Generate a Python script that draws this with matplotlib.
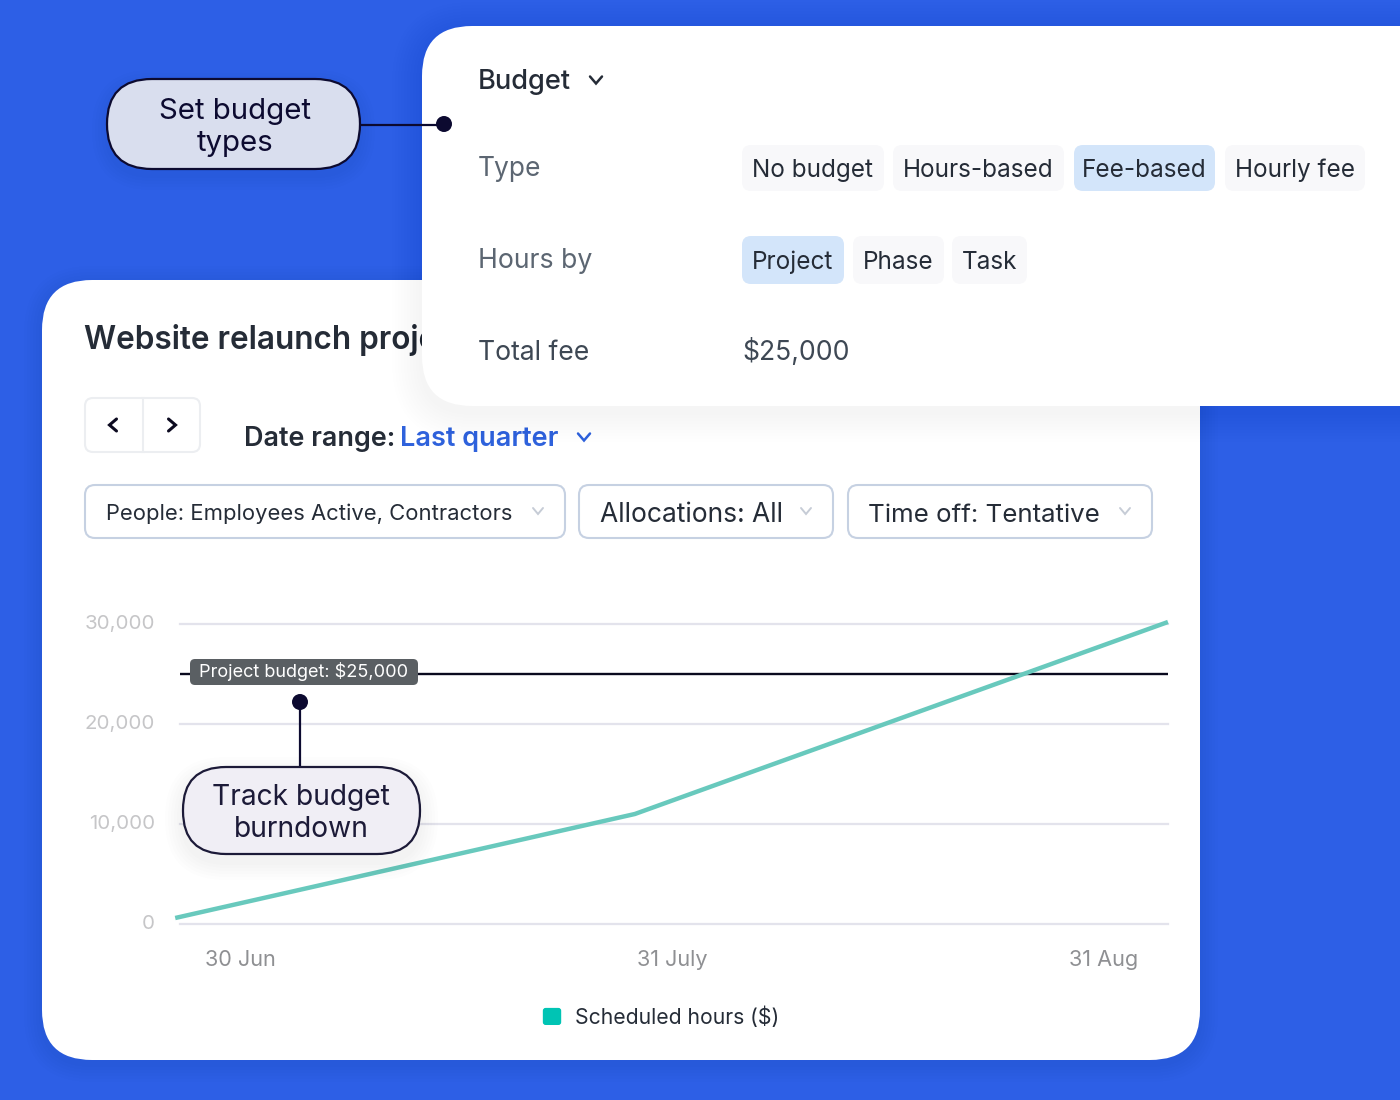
import matplotlib
matplotlib.use("Agg")
import matplotlib.pyplot as plt
from matplotlib.legend_handler import HandlerPatch
from matplotlib.patches import FancyBboxPatch, Circle, Patch
from matplotlib.transforms import ScaledTranslation

plt.rcParams['font.family'] = ['Inter', 'DejaVu Sans']

# chart data, x is in tick units (0 = 30 Jun, 1 = 31 July, 2 = 31 Aug)
line_x = [-0.15, 0.914, 2.148]
line_values = [600, 11000, 30200]
budget_value = 25000
y_ticks = [0, 10000, 20000, 30000]
y_labels = ['0', '10,000', '20,000', '30,000']
x_ticks = [0, 1, 2]
x_labels = ['30 Jun', '31 July', '31 Aug']
series_name = 'Scheduled hours ($)'
budget_label = 'Project budget: $25,000'

type_options = ['No budget', 'Hours-based', 'Fee-based', 'Hourly fee']
hours_options = ['Project', 'Phase', 'Task']
filter_labels = ['People: Employees Active, Contractors', 'Allocations: All', 'Time off: Tentative']

BLUE = '#2d5fe6'
INK = '#0c0a30'
DARK = '#252c37'
GREY = '#5c6672'


def px_axes(zorder):
    ax = fig.add_axes([0, 0, 1, 1], zorder=zorder)
    ax.set_xlim(0, 1400)
    ax.set_ylim(1100, 0)
    ax.axis('off')
    ax.patch.set_alpha(0)
    return ax


def box(ax, x0, y0, x1, y1, r, fc, ec='none', lw=0, z=2):
    p = FancyBboxPatch((x0 + r, y0 + r), x1 - x0 - 2 * r, y1 - y0 - 2 * r,
                       boxstyle='round,pad=%f,rounding_size=%f' % (r, r),
                       fc=fc, ec=ec, lw=lw, zorder=z)
    ax.add_patch(p)
    return p


def shadow(ax, x0, y0, x1, y1, r, spread, dy, alpha, z=1):
    for i in range(spread, 0, -3):
        p = box(ax, x0 - i, y0 - i + dy, x1 + i, y1 + i + dy, r + i, 'black', z=z)
        p.set_alpha(alpha)


def chevron(ax, x, y, w, h, color, lw, direction='down'):
    if direction == 'down':
        xs, ys = [x - w, x, x + w], [y - h, y + h, y - h]
    elif direction == 'left':
        xs, ys = [x + h, x - h, x + h], [y - w, y, y + w]
    else:
        xs, ys = [x - h, x + h, x - h], [y - w, y, y + w]
    ax.plot(xs, ys, color=color, lw=lw, solid_capstyle='round', solid_joinstyle='miter', zorder=5)


class RoundHandle(HandlerPatch):
    def create_artists(self, legend, orig, xdescent, ydescent, width, height, fontsize, trans):
        p = FancyBboxPatch((-xdescent + 2, -ydescent + 2), width - 4, height - 4,
                           boxstyle='round,pad=2,rounding_size=2',
                           fc=orig.get_facecolor(), ec='none', transform=trans)
        return [p]


fig = plt.figure(figsize=(14, 11), dpi=100, facecolor=BLUE)

# base layer: main card
base = px_axes(0)
shadow(base, 42, 280, 1200, 1060, 50, 18, 4, 0.006)
box(base, 42, 280, 1200, 1060, 50, 'white')
base.text(84, 349, 'Website relaunch project', fontsize=22.7, fontweight='semibold', color=DARK,
          va='baseline', zorder=3)

box(base, 85, 398, 200, 452, 8, 'white', ec='#eceef1', lw=1.5, z=3)
base.plot([142.5, 142.5], [398, 452], color='#eceef1', lw=1.5, zorder=4)
chevron(base, 113, 425, 6, 3.5, '#0c0a20', 2.2, 'left')
chevron(base, 172, 425, 6, 3.5, '#0c0a20', 2.2, 'right')

base.text(244, 446, 'Date range:', fontsize=19.4, fontweight='semibold', color=DARK, va='baseline', zorder=3)
base.text(400, 446, 'Last quarter', fontsize=19.5, fontweight='semibold', color='#2f62dc', va='baseline', zorder=3)
chevron(base, 584, 437, 6, 3.5, '#2f62dc', 1.8)

filter_boxes = [(85, 565, 15.85), (579, 833, 19), (848, 1152, 18.65)]
for (x0, x1, size), label in zip(filter_boxes, filter_labels):
    box(base, x0, 485, x1, 538, 10, 'white', ec='#c6d1e2', lw=1.5, z=3)
    base.text(x0 + 20.5, 520 if x0 == 85 else 522, label, fontsize=size, color=DARK, va='baseline', zorder=4)
    chevron(base, x1 - 27, 511, 5, 3, '#c6ccd6', 1.4)

# chart layer, spans x 180-1168 and y 624-924 in pixels
ax = fig.add_axes([180 / 1400, 1 - 924 / 1100, 988 / 1400, 300 / 1100], zorder=1)
ax.patch.set_alpha(0)
ax.set_xlim((180 - 240) / 432, (1168 - 240) / 432)
ax.set_ylim(0, 30000)
for s in ax.spines.values():
    s.set_visible(False)
ax.set_yticks(y_ticks)
ax.set_yticklabels(y_labels)
ax.set_xticks(x_ticks)
ax.set_xticklabels(x_labels)
ax.tick_params(axis='y', length=0, pad=18, labelsize=14.8, labelcolor='#c6c6c8')
ax.tick_params(axis='x', length=0, pad=19, labelsize=15.6, labelcolor='#8f9093')
# y labels sit slightly above their gridlines
for label in ax.get_yticklabels():
    label.set_transform(label.get_transform() + ScaledTranslation(0, 2 / 100, fig.dpi_scale_trans))
ax.grid(axis='y', color='#e3e3ec', lw=1.6, zorder=1, clip_on=False)
ax.set_axisbelow(True)
ax.axhline(budget_value, color='#0a0a1e', lw=1.7, zorder=2)
ax.plot(line_x, line_values, color='#68c9bd', lw=3.2, zorder=3, clip_on=False,
        solid_capstyle='butt', solid_joinstyle='round')
ax.legend(handles=[Patch(fc='#00c4b4', ec='none', label=series_name)],
          loc='center', bbox_to_anchor=(661 / 1400, 1 - 1017 / 1100),
          bbox_transform=fig.transFigure, frameon=False, fontsize=15.2,
          handlelength=0.87, handleheight=0.87, handletextpad=0.65,
          labelcolor=DARK, handler_map={Patch: RoundHandle()})

# top layer: budget panel and callouts
top = px_axes(2)
shadow(top, 422, 26, 1460, 406, 50, 30, 6, 0.004)
box(top, 422, 26, 1460, 406, 50, 'white')

top.text(478, 89, 'Budget', fontsize=19.6, fontweight='medium', color=DARK, va='baseline', zorder=4)
chevron(top, 596, 80, 6, 3.5, DARK, 1.8)

top.text(478, 176, 'Type', fontsize=19, color=GREY, va='baseline', zorder=4)
top.text(478, 268, 'Hours by', fontsize=19.2, color=GREY, va='baseline', zorder=4)
top.text(478, 360, 'Total fee', fontsize=19.1, color='#3e4854', va='baseline', zorder=4)
top.text(742, 360, '$25,000', fontsize=19.1, color='#3e4854', va='baseline', zorder=4)

type_spans = [(742, 884), (893, 1064), (1074, 1215), (1225, 1365)]
for (x0, x1), label in zip(type_spans, type_options):
    fc = '#d3e5fa' if label == 'Fee-based' else '#f8f8fa'
    box(top, x0, 145, x1, 191, 9, fc, z=3)
    top.text((x0 + x1) / 2, 177, label, fontsize=17.5, color=DARK, ha='center', va='baseline', zorder=4)

hours_spans = [(742, 844), (853, 944), (952, 1027)]
for (x0, x1), label in zip(hours_spans, hours_options):
    fc = '#d3e5fa' if label == 'Project' else '#f8f8fa'
    box(top, x0, 236, x1, 284, 9, fc, z=3)
    top.text((x0 + x1) / 2, 269, label, fontsize=17.5, color=DARK, ha='center', va='baseline', zorder=4)

# set budget callout
shadow(top, 107, 79, 360, 169, 45, 15, 6, 0.008)
box(top, 107, 79, 360, 169, 45, '#d9deee', ec=INK, lw=1.6, z=3)
top.text(235, 119, 'Set budget', fontsize=21.2, color=INK, ha='center', va='baseline', zorder=4)
top.text(235, 151, 'types', fontsize=21.2, color=INK, ha='center', va='baseline', zorder=4)
top.plot([360, 444], [125, 125], color=INK, lw=1.6, zorder=2.5)
top.add_patch(Circle((444, 124), 8, fc=INK, ec='none', zorder=4))

# budget label and burndown callout
box(top, 190, 659, 418, 685, 5, '#5a5f63', z=3)
top.text(304, 677, budget_label, fontsize=13.05, color='white', ha='center', va='baseline', zorder=4)
top.plot([300, 300], [702, 767], color=INK, lw=1.6, zorder=2.5)
top.add_patch(Circle((300, 702), 8, fc=INK, ec='none', zorder=4))
shadow(top, 183, 767, 420, 854, 43, 18, 8, 0.006)
box(top, 183, 767, 420, 854, 43, '#f0eef5', ec='#1c1a38', lw=1.6, z=3)
top.text(301, 805, 'Track budget', fontsize=20.3, color='#1c1a38', ha='center', va='baseline', zorder=4)
top.text(301, 837, 'burndown', fontsize=20.3, color='#1c1a38', ha='center', va='baseline', zorder=4)

fig.savefig('out.png', dpi=100, facecolor=BLUE)
